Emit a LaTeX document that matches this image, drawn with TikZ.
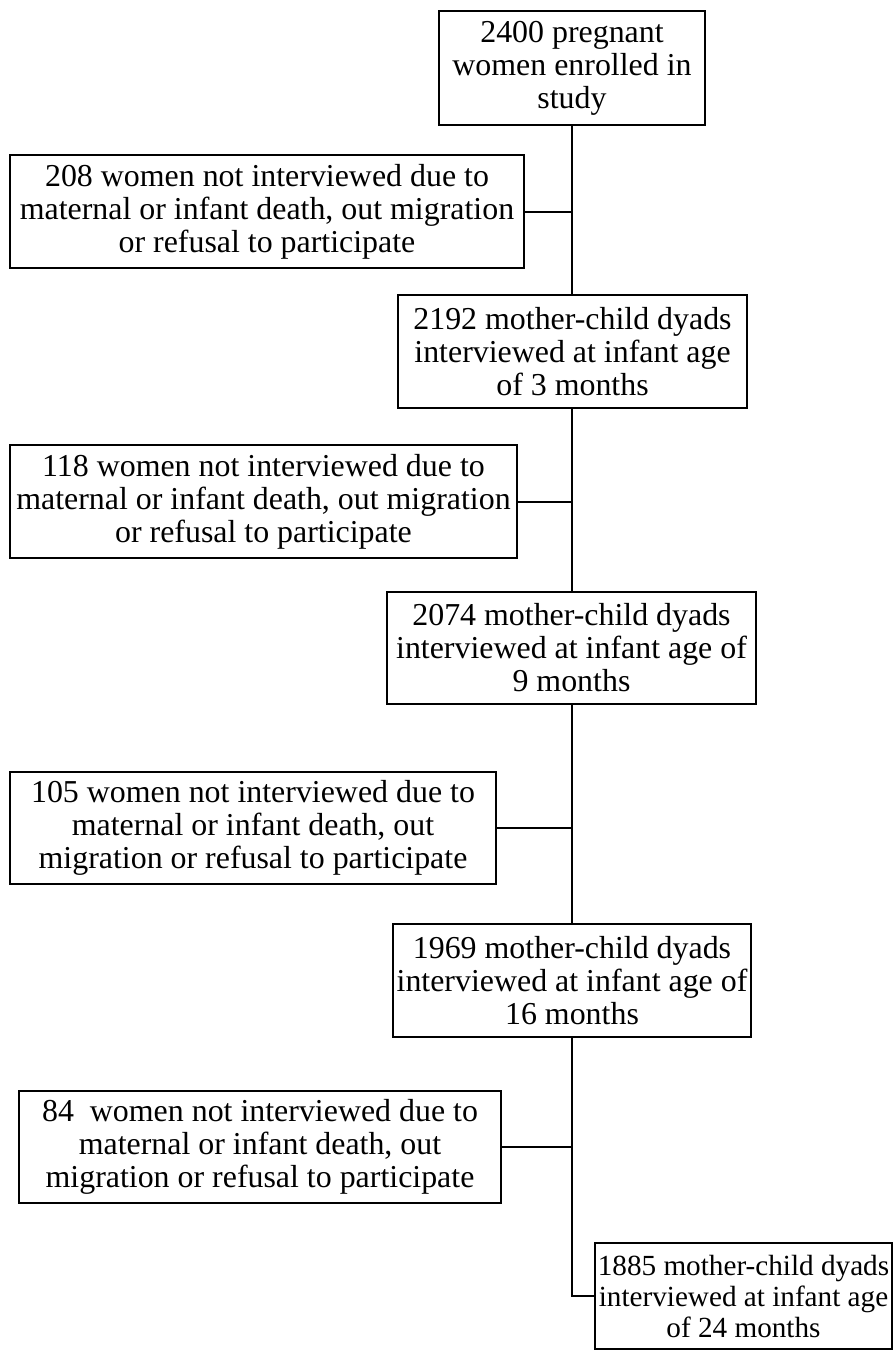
\documentclass[tikz,border=0pt]{standalone}
\usepackage{fontspec}
\setmainfont{Liberation Serif}
\begin{document}
\begin{tikzpicture}[x=1pt,y=-1pt,
  box/.style={draw=black, line width=2pt, fill=white, inner sep=0pt, align=center,
    font=\fontsize{31.9}{33}\selectfont},
  link/.style={draw=black, line width=2pt}]
\useasboundingbox (0,0) rectangle (895,1351);
\node[box, minimum width=266pt, minimum height=114pt] (b1) at (572,68)
  {2400 pregnant\\women enrolled in\\study};
\node[box, minimum width=514pt, minimum height=113pt] (b208) at (267,211.5)
  {208 women not interviewed due to\\maternal or infant death, out migration\\or refusal to participate};
\node[box, minimum width=349pt, minimum height=113pt] (b2192) at (572.5,351.5)
  {2192 mother-child dyads\\interviewed at infant age\\of 3 months};
\node[box, minimum width=507pt, minimum height=113pt] (b118) at (263.5,501.5)
  {118 women not interviewed due to\\maternal or infant death, out migration\\or refusal to participate};
\node[box, minimum width=369pt, minimum height=112pt] (b2074) at (571.5,648)
  {2074 mother-child dyads\\interviewed at infant age of\\9 months};
\node[box, minimum width=486pt, minimum height=112pt] (b105) at (253,828)
  {105 women not interviewed due to\\maternal or infant death, out\\migration or refusal to participate};
\node[box, minimum width=358pt, minimum height=113pt] (b1969) at (572,980.5)
  {1969 mother-child dyads\\interviewed at infant age of\\16 months};
\node[box, minimum width=482pt, minimum height=112pt] (b84) at (260,1147)
  {84\ \ women not interviewed due to\\maternal or infant death, out\\migration or refusal to participate};
\node[box, minimum width=297pt, minimum height=106pt, font=\fontsize{29.2}{31}\selectfont] (b1885) at (743.5,1296)
  {1885 mother-child dyads\\interviewed at infant age\\of 24 months};
\coordinate (tx) at (572,0);
\draw[link] (b1.south -| tx) -- (b2192.north -| tx);
\draw[link] (b2192.south -| tx) -- (b2074.north -| tx);
\draw[link] (b2074.south -| tx) -- (b1969.north -| tx);
\draw[link] (b1969.south -| tx) |- (b1885.west);
\draw[link] (b208.east) -- (b208.east -| tx);
\draw[link] (b118.east) -- (b118.east -| tx);
\draw[link] (b105.east) -- (b105.east -| tx);
\draw[link] (b84.east) -- (b84.east -| tx);
\end{tikzpicture}
\end{document}
